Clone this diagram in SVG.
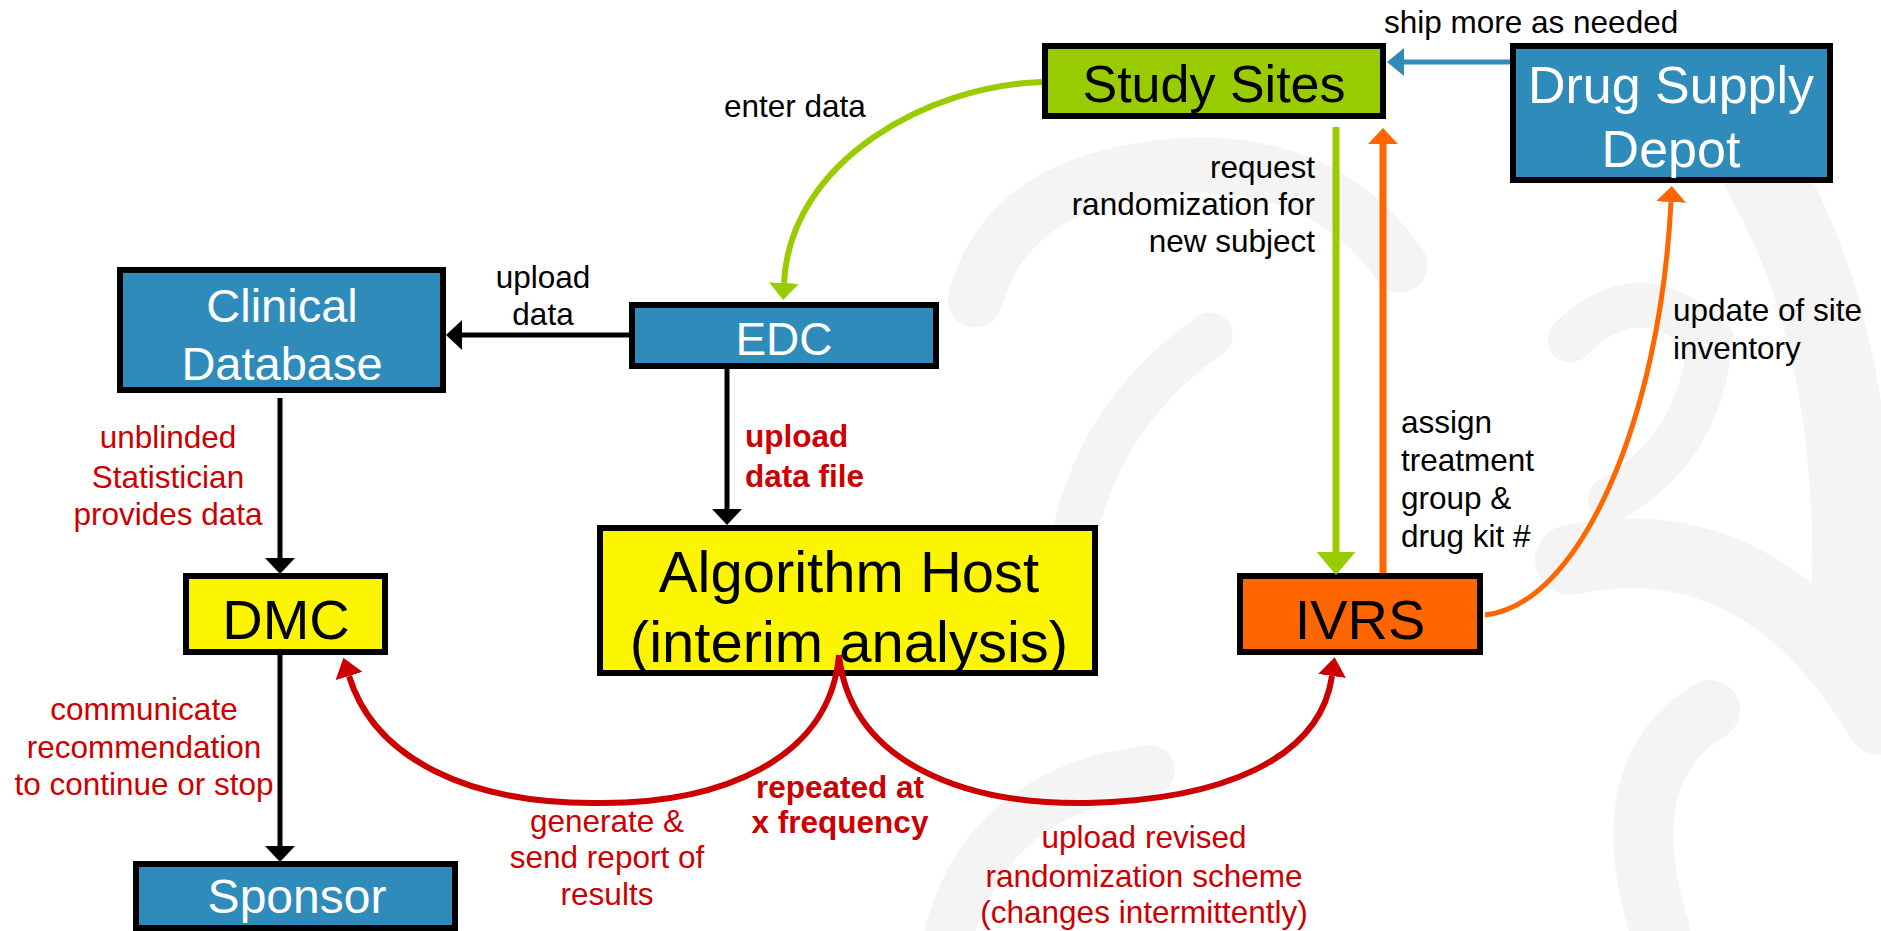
<svg xmlns="http://www.w3.org/2000/svg" width="1881" height="931" viewBox="0 0 1881 931">
<style>
text{font-family:"Liberation Sans",Arial,sans-serif}
.box{stroke:#000;stroke-width:6}
.blue{fill:#2e8bba}
.green{fill:#99cc00}
.yellow{fill:#fcf500}
.orange{fill:#ff6600}
.wt{fill:#fff}
.bt{fill:#000}
.lbl{font-size:31.5px;fill:#000}
.red{font-size:31.5px;fill:#cc0000}
.bold{font-weight:bold}
.mid{text-anchor:middle}
.end{text-anchor:end}
.wm{fill:none;stroke:#f4f4f4;stroke-linecap:round}
.c{fill:none}
</style>
<defs>
<marker id="aBlack" markerUnits="userSpaceOnUse" viewBox="0 0 16 30" markerWidth="16" markerHeight="30" refX="0" refY="15" orient="auto"><path d="M0,0 L16,15 L0,30 Z" fill="#000"/></marker>
<marker id="aBlue" markerUnits="userSpaceOnUse" viewBox="0 0 17 28" markerWidth="17" markerHeight="28" refX="0" refY="14" orient="auto"><path d="M0,0 L17,14 L0,28 Z" fill="#2e8bba"/></marker>
<marker id="aGreen" markerUnits="userSpaceOnUse" viewBox="0 0 17 30" markerWidth="17" markerHeight="30" refX="0" refY="15" orient="auto"><path d="M0,0 L17,15 L0,30 Z" fill="#99cc00"/></marker>
<marker id="aGreenL" markerUnits="userSpaceOnUse" viewBox="0 0 23 39" markerWidth="23" markerHeight="39" refX="0" refY="19.5" orient="auto"><path d="M0,0 L23,19.5 L0,39 Z" fill="#99cc00"/></marker>
<marker id="aOrange" markerUnits="userSpaceOnUse" viewBox="0 0 16 30" markerWidth="16" markerHeight="30" refX="0" refY="15" orient="auto"><path d="M0,0 L16,15 L0,30 Z" fill="#ff6600"/></marker>
<marker id="aRed" markerUnits="userSpaceOnUse" viewBox="0 0 19 28" markerWidth="19" markerHeight="28" refX="0" refY="14" orient="auto"><path d="M0,0 L19,14 L0,28 Z" fill="#cc0000"/></marker>
</defs>
<rect width="1881" height="931" fill="#fff"/>
<g id="watermark">
<path class="wm" stroke-width="55" d="M975,300 Q1010,170 1200,165 Q1330,165 1400,265"/>
<path class="wm" stroke-width="45" d="M1070,560 Q1090,420 1210,335"/>
<path class="wm" stroke-width="80" d="M1720,110 Q1870,300 1850,640"/>
<path class="wm" stroke-width="70" d="M1570,560 Q1760,520 1881,720"/>
<path class="wm" stroke-width="60" d="M1660,931 Q1610,770 1710,710"/>
<path class="wm" stroke-width="50" d="M950,931 Q990,790 1150,770"/>
<path class="wm" stroke-width="45" d="M1570,340 Q1640,270 1710,340 Q1700,450 1610,500"/>
</g>
<g id="study-sites"><rect class="box green" x="1045" y="46" width="338" height="70"/><text class="bt mid" x="1214" y="102" font-size="52">Study Sites</text></g>
<g id="drug-supply-depot"><rect class="box blue" x="1513" y="46" width="317" height="134"/><text class="wt mid" x="1671" y="103" font-size="52">Drug Supply</text><text class="wt mid" x="1671" y="167" font-size="52">Depot</text></g>
<g id="clinical-database"><rect class="box blue" x="120" y="270" width="323" height="120"/><text class="wt mid" x="282" y="322" font-size="47">Clinical</text><text class="wt mid" x="282" y="380" font-size="47">Database</text></g>
<g id="edc"><rect class="box blue" x="632" y="305" width="304" height="61"/><text class="wt mid" x="784" y="355" font-size="46">EDC</text></g>
<g id="algorithm-host"><rect class="box yellow" x="600" y="528" width="495" height="145"/><text class="bt mid" x="849" y="592" font-size="58">Algorithm Host</text><text class="bt mid" x="849" y="662" font-size="58">(interim analysis)</text></g>
<g id="dmc"><rect class="box yellow" x="186" y="576" width="199" height="76"/><text class="bt mid" x="286" y="639" font-size="56">DMC</text></g>
<g id="ivrs"><rect class="box orange" x="1240" y="576" width="240" height="76"/><text class="bt mid" x="1360" y="639" font-size="56">IVRS</text></g>
<g id="sponsor"><rect class="box blue" x="136" y="864" width="319" height="64"/><text class="wt mid" x="297" y="913" font-size="48">Sponsor</text></g>
<g id="connectors">
<path class="c" stroke="#2e8bba" stroke-width="5" d="M1510,62 L1404,62" marker-end="url(#aBlue)"/>
<path class="c" stroke="#99cc00" stroke-width="6" d="M1042,82 C930,85 790,160 784,283" marker-end="url(#aGreen)"/>
<path class="c" stroke="#000" stroke-width="5" d="M629,335 L462,335" marker-end="url(#aBlack)"/>
<path class="c" stroke="#000" stroke-width="5" d="M727,369 L727,509" marker-end="url(#aBlack)"/>
<path class="c" stroke="#000" stroke-width="5" d="M280,398 L280,558" marker-end="url(#aBlack)"/>
<path class="c" stroke="#000" stroke-width="5" d="M280,655 L280,846" marker-end="url(#aBlack)"/>
<path class="c" stroke="#99cc00" stroke-width="7" d="M1336,127 L1336,552" marker-end="url(#aGreenL)"/>
<path class="c" stroke="#ff6600" stroke-width="7" d="M1383,573 L1383,144" marker-end="url(#aOrange)"/>
<path class="c" stroke="#ff6600" stroke-width="5" d="M1485,615 C1580,605 1660,420 1671,202" marker-end="url(#aOrange)"/>
<path class="c" stroke="#cc0000" stroke-width="6" d="M839,655 C830,760 720,805 593,803 C470,803 375,760 349,676" marker-end="url(#aRed)"/>
<path class="c" stroke="#cc0000" stroke-width="6" d="M839,655 C850,760 960,805 1087,803 C1220,800 1320,760 1332,676" marker-end="url(#aRed)"/>
</g>
<g id="labels">
<text class="lbl" x="1384" y="33">ship more as needed</text>
<text class="lbl" x="724" y="117">enter data</text>
<text class="lbl mid" x="543" y="288">upload</text>
<text class="lbl mid" x="543" y="325">data</text>
<text class="lbl end" x="1315" y="178">request</text>
<text class="lbl end" x="1315" y="215">randomization for</text>
<text class="lbl end" x="1315" y="252">new subject</text>
<text class="lbl" x="1401" y="433">assign</text>
<text class="lbl" x="1401" y="471">treatment</text>
<text class="lbl" x="1401" y="509">group &amp;</text>
<text class="lbl" x="1401" y="547">drug kit #</text>
<text class="lbl" x="1673" y="321">update of site</text>
<text class="lbl" x="1673" y="359">inventory</text>
<text class="red mid" x="168" y="448">unblinded</text>
<text class="red mid" x="168" y="488">Statistician</text>
<text class="red mid" x="168" y="525">provides data</text>
<text class="red bold" x="745" y="447">upload</text>
<text class="red bold" x="745" y="487">data file</text>
<text class="red mid" x="144" y="720">communicate</text>
<text class="red mid" x="144" y="758">recommendation</text>
<text class="red mid" x="144" y="795">to continue or stop</text>
<text class="red mid" x="607" y="832">generate &amp;</text>
<text class="red mid" x="607" y="868">send report of</text>
<text class="red mid" x="607" y="905">results</text>
<text class="red bold mid" x="840" y="798">repeated at</text>
<text class="red bold mid" x="840" y="833">x frequency</text>
<text class="red mid" x="1144" y="848">upload revised</text>
<text class="red mid" x="1144" y="887">randomization scheme</text>
<text class="red mid" x="1144" y="923">(changes intermittently)</text>
</g>
</svg>
